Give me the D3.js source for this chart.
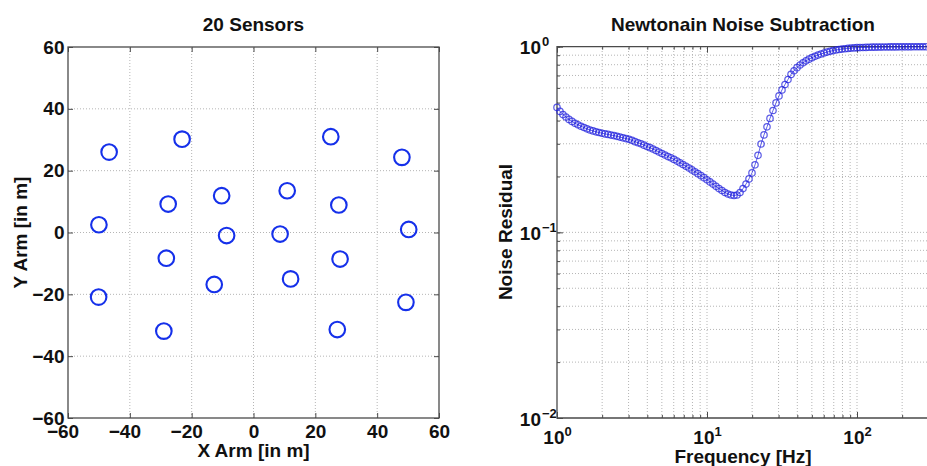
<!DOCTYPE html>
<html>
<head>
<meta charset="utf-8">
<script src="https://cdn.jsdelivr.net/npm/d3@7"></script>
<style>
  body { margin: 0; background: #fff; }
  svg text { font-family: "Liberation Sans", Arial, Helvetica, sans-serif; font-weight: bold; fill: #111; }
</style>
</head>
<body>
<svg id="chart" width="927" height="466"></svg>
<script>
// ---- Sensor layout (metres) ----
const sensorX = [-46.7, -23.1, 25.0, 48.0, -50.0, -27.6, -10.3, 10.9, 27.6, 50.2,
                 -8.7, 8.6, -28.2, 28.0, -12.7, 12.0, -50.1, 49.3, -29.0, 27.1];
const sensorY = [26.0, 30.2, 31.0, 24.3, 2.5, 9.2, 11.9, 13.5, 8.9, 1.0,
                 -1.0, -0.5, -8.3, -8.6, -16.8, -15.0, -20.9, -22.6, -31.9, -31.4];
const armTicks = [-60, -40, -20, 0, 20, 40, 60];

// ---- Noise subtraction residual vs frequency ----
const freqHz = [
  1.000, 1.047, 1.096, 1.148, 1.202, 1.259, 1.318, 1.380, 1.445, 1.514,
  1.585, 1.660, 1.738, 1.820, 1.905, 1.995, 2.089, 2.188, 2.291, 2.399,
  2.512, 2.630, 2.754, 2.884, 3.020, 3.162, 3.311, 3.467, 3.631, 3.802,
  3.981, 4.169, 4.365, 4.571, 4.786, 5.012, 5.248, 5.495, 5.754, 6.026,
  6.310, 6.607, 6.918, 7.244, 7.586, 7.943, 8.318, 8.710, 9.120, 9.550,
  10.00, 10.47, 10.96, 11.48, 12.02, 12.59, 13.18, 13.80, 14.45, 15.14,
  15.85, 16.60, 17.38, 18.20, 19.05, 19.95, 20.89, 21.88, 22.91, 23.99,
  25.12, 26.30, 27.54, 28.84, 30.20, 31.62, 33.11, 34.67, 36.31, 38.02,
  39.81, 41.69, 43.65, 45.71, 47.86, 50.12, 52.48, 54.95, 57.54, 60.26,
  63.10, 66.07, 69.18, 72.44, 75.86, 79.43, 83.18, 87.10, 91.20, 95.50,
  100.0, 104.7, 109.6, 114.8, 120.2, 125.9, 131.8, 138.0, 144.5, 151.4,
  158.5, 166.0, 173.8, 182.0, 190.5, 199.5, 208.9, 218.8, 229.1, 239.9,
  251.2, 263.0, 275.4, 288.4
];
const residual = [
  0.471, 0.448, 0.431, 0.418, 0.406, 0.396, 0.387, 0.380, 0.373, 0.367,
  0.361, 0.356, 0.352, 0.348, 0.345, 0.342, 0.339, 0.337, 0.334, 0.332,
  0.329, 0.326, 0.323, 0.320, 0.317, 0.313, 0.308, 0.304, 0.300, 0.295,
  0.290, 0.286, 0.281, 0.276, 0.271, 0.266, 0.261, 0.256, 0.252, 0.247,
  0.242, 0.237, 0.232, 0.227, 0.222, 0.217, 0.212, 0.207, 0.202, 0.197,
  0.192, 0.187, 0.182, 0.177, 0.172, 0.168, 0.164, 0.161, 0.159, 0.158,
  0.159, 0.164, 0.172, 0.182, 0.194, 0.209, 0.231, 0.260, 0.299, 0.335,
  0.370, 0.411, 0.453, 0.498, 0.543, 0.585, 0.626, 0.666, 0.709, 0.742,
  0.771, 0.797, 0.819, 0.839, 0.857, 0.873, 0.888, 0.901, 0.913, 0.925,
  0.935, 0.944, 0.953, 0.960, 0.966, 0.971, 0.975, 0.979, 0.983, 0.985,
  0.988, 0.989, 0.990, 0.991, 0.993, 0.994, 0.994, 0.995, 0.995, 0.996,
  0.996, 0.997, 0.997, 0.997, 0.998, 0.998, 0.998, 0.998, 0.998, 0.999,
  0.999, 0.999, 0.999, 0.999
];
const freqExponents = [0, 1, 2];
const residualExponents = [-2, -1, 0];

const svg = d3.select("#chart");
const FRAME = "#4a4a4a";
const GRID = "#b5b5b5";
const MINUS = "\u2212";
const fmtNum = d => (d < 0 ? MINUS + Math.abs(d) : String(d));

function styleAxis(g) {
  g.select(".domain").remove();
  g.selectAll(".tick line").attr("stroke", FRAME).attr("stroke-width", 1);
  g.selectAll(".tick text").attr("font-size", 19).attr("fill", "#111");
}

// ================= Left panel: sensor positions =================
const xL = d3.scaleLinear().domain([-60, 60]).range([68, 439]);
const yL = d3.scaleLinear().domain([-60, 60]).range([418, 47]);
const left = svg.append("g");

const gridL = left.append("g")
  .attr("stroke", GRID).attr("stroke-width", 1).attr("stroke-dasharray", "1,2");
gridL.selectAll("line.v").data(armTicks.slice(1, -1)).join("line")
  .attr("x1", d => xL(d)).attr("x2", d => xL(d))
  .attr("y1", yL(-60)).attr("y2", yL(60));
gridL.selectAll("line.h").data(armTicks.slice(1, -1)).join("line")
  .attr("y1", d => yL(d)).attr("y2", d => yL(d))
  .attr("x1", xL(-60)).attr("x2", xL(60));

left.append("g").attr("transform", `translate(0,${yL(-60)})`)
  .call(d3.axisBottom(xL).tickValues(armTicks).tickSizeInner(-5).tickSizeOuter(0)
    .tickPadding(7).tickFormat(fmtNum))
  .call(styleAxis)
  .call(g => g.selectAll(".tick text").attr("dx", d => d < 0 ? -5.5 : 0));
left.append("g").attr("transform", `translate(0,${yL(60)})`)
  .call(d3.axisTop(xL).tickValues(armTicks).tickSizeInner(-5).tickSizeOuter(0).tickFormat(""))
  .call(styleAxis);
left.append("g").attr("transform", `translate(${xL(-60)},0)`)
  .call(d3.axisLeft(yL).tickValues(armTicks).tickSizeInner(-5).tickSizeOuter(0)
    .tickPadding(3.5).tickFormat(fmtNum))
  .call(styleAxis);
left.append("g").attr("transform", `translate(${xL(60)},0)`)
  .call(d3.axisRight(yL).tickValues(armTicks).tickSizeInner(-5).tickSizeOuter(0).tickFormat(""))
  .call(styleAxis);

left.append("rect")
  .attr("x", xL(-60)).attr("y", yL(60))
  .attr("width", xL(60) - xL(-60)).attr("height", yL(-60) - yL(60))
  .attr("fill", "none").attr("stroke", FRAME).attr("stroke-width", 1.3);

left.append("g").selectAll("circle").data(sensorX).join("circle")
  .attr("cx", d => xL(d)).attr("cy", (d, i) => yL(sensorY[i]))
  .attr("r", 7.8).attr("fill", "none").attr("stroke", "#1530ea").attr("stroke-width", 2.1);

left.append("text").attr("x", 253.5).attr("y", 31).attr("text-anchor", "middle")
  .attr("font-size", 19).text("20 Sensors");
left.append("text").attr("x", 253.5).attr("y", 457).attr("text-anchor", "middle")
  .attr("font-size", 19).text("X Arm [in m]");
left.append("text").attr("transform", "translate(26.5,232.5) rotate(-90)")
  .attr("text-anchor", "middle").attr("font-size", 19).text("Y Arm [in m]");

// ================= Right panel: residual spectrum =================
const xR = d3.scaleLog().domain([1, 300]).range([557, 557 + 150 * Math.log10(300)]);
const yR = d3.scaleLog().domain([0.01, 1]).range([418, 46.7]);
const right = svg.append("g");

const fMajor = freqExponents.map(e => Math.pow(10, e));
const rMajor = residualExponents.map(e => Math.pow(10, e));
const fAll = xR.ticks();
const rAll = yR.ticks();

const gridR = right.append("g")
  .attr("stroke", GRID).attr("stroke-width", 1).attr("stroke-dasharray", "1,2");
gridR.selectAll("line.v").data(fAll.filter(d => d > 1)).join("line")
  .attr("x1", d => xR(d)).attr("x2", d => xR(d))
  .attr("y1", yR(0.01)).attr("y2", yR(1));
gridR.selectAll("line.h").data(rAll.filter(d => d > 0.0101 && d < 0.99)).join("line")
  .attr("y1", d => yR(d)).attr("y2", d => yR(d))
  .attr("x1", xR(1)).attr("x2", xR(300));

// minor ticks (inward)
right.append("g").attr("transform", `translate(0,${yR(0.01)})`)
  .call(d3.axisBottom(xR).tickValues(fAll).tickSizeInner(-3).tickSizeOuter(0).tickFormat(""))
  .call(styleAxis);
right.append("g").attr("transform", `translate(0,${yR(1)})`)
  .call(d3.axisTop(xR).tickValues(fAll).tickSizeInner(-3).tickSizeOuter(0).tickFormat(""))
  .call(styleAxis);
right.append("g").attr("transform", `translate(${xR(1)},0)`)
  .call(d3.axisLeft(yR).tickValues(rAll).tickSizeInner(-3).tickSizeOuter(0).tickFormat(""))
  .call(styleAxis);

// major ticks with power-of-ten labels
right.append("g").attr("transform", `translate(0,${yR(0.01)})`)
  .call(d3.axisBottom(xR).tickValues(fMajor).tickSizeInner(-6).tickSizeOuter(0)
    .tickPadding(12.5).tickFormat(() => "10"))
  .call(styleAxis)
  .call(g => g.selectAll(".tick text").each(function(d, i) {
    d3.select(this).append("tspan").attr("dy", -8).attr("font-size", 13)
      .text(fmtNum(freqExponents[i]));
  }));
right.append("g").attr("transform", `translate(0,${yR(1)})`)
  .call(d3.axisTop(xR).tickValues(fMajor).tickSizeInner(-6).tickSizeOuter(0).tickFormat(""))
  .call(styleAxis);
right.append("g").attr("transform", `translate(${xR(1)},0)`)
  .call(d3.axisLeft(yR).tickValues(rMajor).tickSizeInner(-6).tickSizeOuter(0)
    .tickPadding(16).tickFormat(() => "10"))
  .call(styleAxis)
  .call(g => g.selectAll(".tick text").attr("dy", 7))
  .call(g => g.selectAll(".tick").append("text")
    .attr("x", -15).attr("y", -1).attr("text-anchor", "start")
    .attr("font-size", 13).attr("fill", "#111")
    .text((d, i) => fmtNum(residualExponents[i])));

// frame: left, top and bottom edges (right edge lies beyond the page)
right.append("path")
  .attr("d", `M${xR(300)},${yR(1)}H${xR(1)}V${yR(0.01)}H${xR(300)}`)
  .attr("fill", "none").attr("stroke", FRAME).attr("stroke-width", 1.3);

const pts = freqHz.map((f, i) => [f, residual[i]]);
right.append("path").datum(pts)
  .attr("d", d3.line().x(d => xR(d[0])).y(d => yR(d[1])))
  .attr("fill", "none").attr("stroke", "#2020e0").attr("stroke-opacity", 0.7).attr("stroke-width", 1);
right.append("g").selectAll("circle").data(pts).join("circle")
  .attr("cx", d => xR(d[0])).attr("cy", d => yR(d[1])).attr("r", 3.2)
  .attr("fill", "none").attr("stroke", "#2020dc").attr("stroke-opacity", 0.72).attr("stroke-width", 1.25);

right.append("text").attr("x", 743).attr("y", 31).attr("text-anchor", "middle")
  .attr("font-size", 19).text("Newtonain Noise Subtraction");
right.append("text").attr("x", 743).attr("y", 462.5).attr("text-anchor", "middle")
  .attr("font-size", 19).text("Frequency [Hz]");
right.append("text").attr("transform", "translate(512,232) rotate(-90)")
  .attr("text-anchor", "middle").attr("font-size", 19).text("Noise Residual");
</script>
</body>
</html>
